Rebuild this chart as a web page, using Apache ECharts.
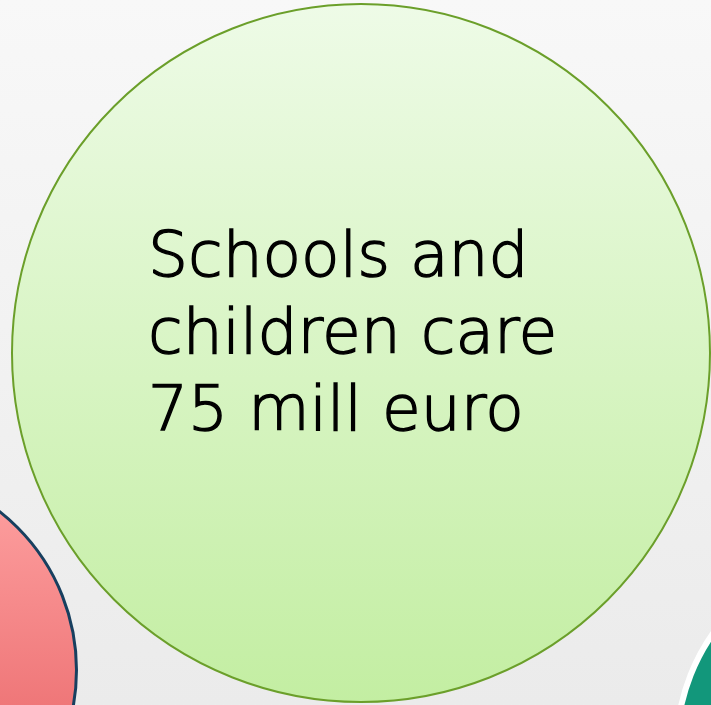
<!DOCTYPE html>
<html>
<head>
<meta charset="utf-8">
<script src="https://cdn.jsdelivr.net/npm/echarts@6/dist/echarts.min.js"></script>
<style>html,body{margin:0;padding:0;background:#f2f2f2}#c{width:711px;height:705px}</style>
</head>
<body>
<div id="c"></div>
<script>
// Bubble data
const names = ['Schools and children care', 'Other sector A', 'Other sector B'];
const values = [75, 25, 25];           // mill euro (only the first is readable)
const xPos = [361, -125, 878];
const yPos = [353, 670, 749];
const unit = 'mill euro';

const chart = echarts.init(document.getElementById('c'), null, {renderer: 'canvas'});
const G = echarts.graphic.LinearGradient;
const styles = [
  {opacity: 1, color: new G(0, 0, 0, 1, [{offset: 0, color: '#eefbe7'}, {offset: 1, color: '#c3eea2'}]), borderColor: '#6b9f2a', borderWidth: 2},
  {opacity: 1, color: new G(0, 0, 0, 1, [{offset: 0, color: '#ffa4a4'}, {offset: 1, color: '#e4575a'}]), borderColor: '#173f5f', borderWidth: 3},
  {opacity: 1, color: '#12977b', borderColor: '#ffffff', borderWidth: 6}
];
const maxR = 349;
const data = names.map((n, i) => ({
  name: n,
  value: [xPos[i], yPos[i], values[i]],
  symbolSize: 2 * maxR * Math.sqrt(values[i] / values[0]),
  itemStyle: styles[i],
  label: {show: i === 0}
}));

chart.setOption({
  animation: false,
  backgroundColor: new G(0, 0, 0, 1, [{offset: 0, color: '#f8f8f8'}, {offset: 1, color: '#ebebeb'}]),
  grid: {left: 0, right: 0, top: 0, bottom: 0},
  xAxis: {type: 'value', min: 0, max: 711, show: false},
  yAxis: {type: 'value', min: 0, max: 705, inverse: true, show: false},
  series: [{
    type: 'scatter',
    clip: false,
    silent: true,
    data: data,
    label: {
      position: 'inside',
      align: 'left',
      verticalAlign: 'middle',
      offset: [-213, -16],
      color: '#000',
      fontFamily: 'DejaVu Sans',
      fontWeight: 200,
      fontSize: 63,
      lineHeight: 77,
      textBorderColor: '#000',
      textBorderWidth: 1.4,
      formatter: p => 'Schools and\nchildren care\n' + p.value[2] + ' ' + unit
    }
  }]
});
</script>
</body>
</html>
